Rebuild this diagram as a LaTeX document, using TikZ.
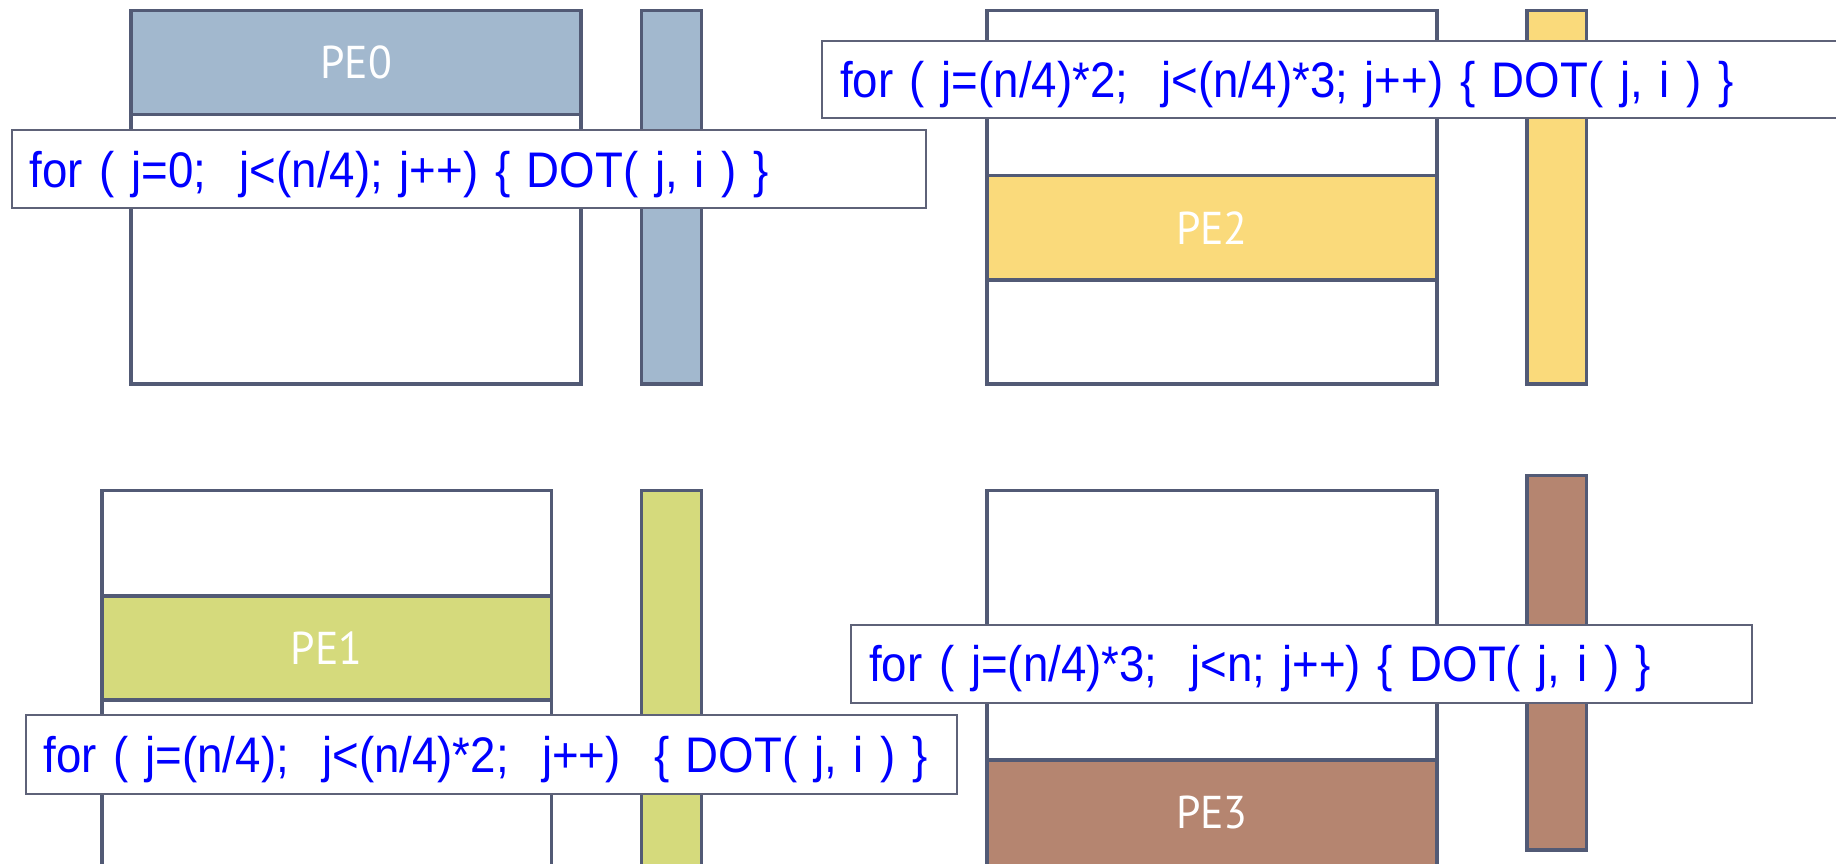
\documentclass[tikz,border=0pt]{standalone}
\usepackage{fontspec}
\setmainfont{Liberation Sans}
\newfontfamily\codefont[FakeStretch=0.913]{Liberation Sans}
\newfontfamily\pefont[FakeStretch=0.95]{PT Sans}
\definecolor{edge}{HTML}{525A75}
\definecolor{cedge}{HTML}{5E6278}
\definecolor{pezero}{HTML}{A2B8CE}
\definecolor{peone}{HTML}{D5DA7C}
\definecolor{petwo}{HTML}{FADA7B}
\definecolor{pethree}{HTML}{B58570}
\definecolor{codeblue}{HTML}{0000FF}
\tikzset{
  mat/.style={draw=edge, line width=3.5pt, fill=white, anchor=north west, inner sep=0pt, outer sep=0pt, minimum width=449.8pt},
  band/.style={draw=edge, line width=3.5pt, anchor=north west, inner sep=0pt, outer sep=0pt, minimum width=449.8pt, minimum height=104.2pt, text=white, font=\pefont\fontsize{46}{50}\selectfont},
  vec/.style={draw=edge, line width=3.5pt, anchor=north west, inner sep=0pt, outer sep=0pt, minimum width=59.7pt},
  code/.style={draw=cedge, line width=2pt, fill=white, anchor=north west, inner ysep=0pt, inner xsep=18pt, outer sep=0pt, align=left, text=codeblue, text height=40pt, text depth=4pt, font=\codefont\fontsize{50}{56}\selectfont}
}
\begin{document}
\begin{tikzpicture}[x=1pt,y=-1pt]
\useasboundingbox (0,0) rectangle (1836,863);
\clip (0,0) rectangle (1836,863);
% PE0 (top left)
\node[mat, minimum height=373.5pt] (m0) at (131.1,10.5) {};
\node[band, fill=pezero] (b0) at (131.1,10.5) {PE0};
\node[vec, fill=pezero, minimum height=373.5pt] (v0) at (641.7,10.5) {};
% PE2 (top right)
\node[mat, minimum height=373.5pt] (m2) at (987,10.5) {};
\node[band, fill=petwo] (b2) at (987,175.6) {PE2};
\node[vec, fill=petwo, minimum height=373.5pt] (v2) at (1526.9,10.5) {};
% PE1 (bottom left)
\node[mat, minimum height=400pt] (m1) at (101.9,490.6) {};
\node[band, fill=peone] (b1) at (101.9,596) {PE1};
\node[vec, fill=peone, minimum height=400pt] (v1) at (641.7,490.6) {};
% PE3 (bottom right)
\node[mat, minimum height=400pt] (m3) at (987,490.6) {};
\node[band, fill=pethree, minimum height=130pt] (b3) at (987,760) {};
\node[text=white, font=\pefont\fontsize{46}{50}\selectfont] (l3) at (1211.9,812.6) {PE3};
\node[vec, fill=pethree, minimum height=374.7pt] (v3) at (1526.9,475.4) {};
% code boxes
\node[code, minimum height=78.4pt, text width=878.5pt] (c0) at (11.7,130) {\mbox{for ( j=0;~~j<(n/4); j++) \{ DOT( j, i ) \}}};
\node[code, minimum height=77.3pt, text width=1064pt] (c2) at (822,41) {\mbox{for ( j=(n/4)*2;~~j<(n/4)*3; j++) \{ DOT( j, i ) \}}};
\node[code, minimum height=78.5pt, text width=894.8pt] (c1) at (25.8,715.4) {\mbox{for ( j=(n/4);~~j<(n/4)*2;~~j++)~~\{ DOT( j, i ) \}}};
\node[code, minimum height=77.2pt, text width=864.5pt] (c3) at (851.2,625.3) {\mbox{for ( j=(n/4)*3;~~j<n; j++) \{ DOT( j, i ) \}}};
\end{tikzpicture}
\end{document}
